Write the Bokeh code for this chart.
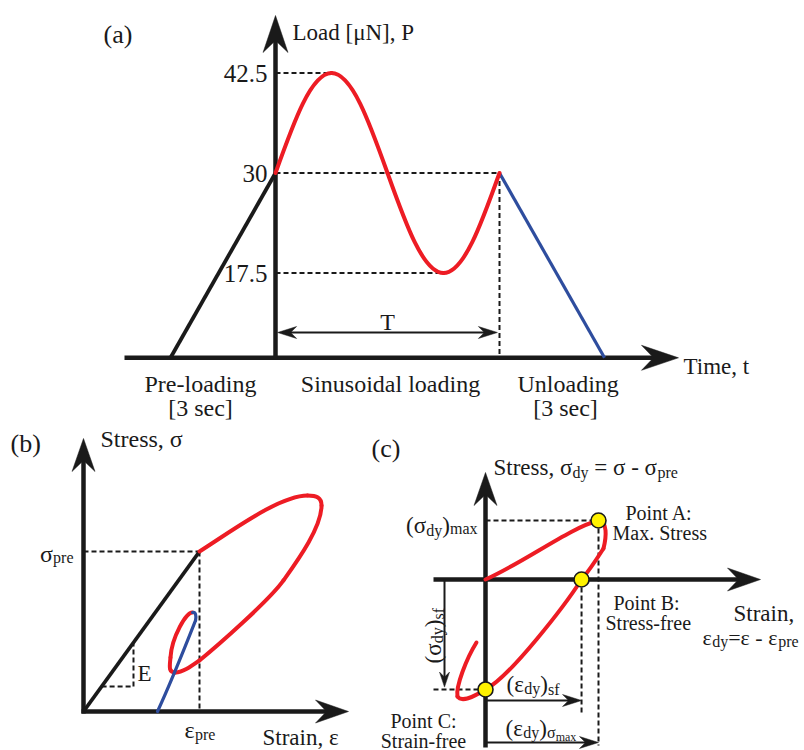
import math
from bokeh.plotting import figure
from bokeh.models import Range1d, ColumnDataSource
from bokeh.core.properties import value
from bokeh.embed import file_html
from bokeh.resources import INLINE

W, H = 804, 750
FONT = "Liberation Serif"
INK = "#1a1a1a"
RED = "#ed1c24"
BLUE = "#2e4d9e"
YELLOW = "#fff200"

# ======================= DATA =======================
# (a) load history  (time in s, load in uN; schematic)
LOAD_TICKS = [42.5, 30.0, 17.5]
LOAD_TICK_LABELS = ["42.5", "30", "17.5"]
LOAD_AT_TIME_AXIS = 6.9            # the (not to scale) load level of the time axis
PERIOD = 6.4                       # sinusoid period T
PRELOAD_T = [-3.0, 0.0]
PRELOAD_P = [LOAD_AT_TIME_AXIS, 30.0]
SINE_T = [0.0, 1.6, 3.2, 4.8, 6.4]          # zero crossings and extremes
SINE_P = [30.0, 42.5, 30.0, 17.5, 30.0]
UNLOAD_T = [6.4, 9.4]
UNLOAD_P = [30.0, LOAD_AT_TIME_AXIS]

# (b) stress-strain, normalised by eps_pre and sigma_pre
EPS_PRE, SIG_PRE = 1.0, 1.0
B_PRELOAD_EPS = [0.0, 1.0]
B_PRELOAD_SIG = [0.0, 1.0]
E_TRI_EPS = [0.156, 0.431, 0.431]
E_TRI_SIG = [0.156, 0.156, 0.431]
# cubic segments: (x0, y0, cx0, cy0, cx1, cy1, x1, y1)
B_RED_SEGMENTS = [
    (1.000, 1.000, 1.310, 1.144, 1.698, 1.350, 1.931, 1.350),
    (1.931, 1.350, 2.009, 1.350, 2.052, 1.338, 2.052, 1.288),
    (2.052, 1.288, 2.052, 1.150, 1.844, 0.942, 1.724, 0.819),
    (1.724, 0.819, 1.604, 0.696, 1.150, 0.407, 1.000, 0.319),
    (1.000, 0.319, 0.914, 0.275, 0.853, 0.244, 0.793, 0.244),
    (0.793, 0.244, 0.733, 0.244, 0.741, 0.275, 0.750, 0.338),
    (0.750, 0.338, 0.759, 0.463, 0.888, 0.625, 0.940, 0.619),
]
B_BLUE_SEGMENTS = [
    (0.940, 0.619, 0.966, 0.625, 0.974, 0.600, 0.966, 0.569),
    (0.966, 0.569, 0.922, 0.488, 0.750, 0.175, 0.638, 0.000),
]

# (c) dynamic stress-strain, normalised by (eps_dy)_smax and (sigma_dy)_max
POINT_NAMES = ["A", "B", "C"]
POINT_EPS = [1.0, 0.85, 0.0]
POINT_SIG = [1.0, 0.0, -1.864]
C_RED_SEGMENTS = [
    (0.000, 0.000, 0.354, 0.305, 0.752, 0.881, 1.000, 1.000),
    (1.000, 1.000, 1.080, 0.983, 1.071, 0.729, 1.044, 0.525),
    (1.044, 0.525, 0.982, 0.339, 0.912, 0.136, 0.850, 0.000),
    (0.850, 0.000, 0.708, -0.424, 0.221, -1.644, 0.000, -1.864),
    (0.000, -1.864, -0.115, -2.000, -0.212, -2.085, -0.248, -1.983),
    (-0.248, -1.983, -0.265, -1.814, -0.168, -1.339, -0.080, -1.068),
]


# ======================= LAYOUT =======================
class Panel:
    def __init__(self, name, ox, oy, kx, ky):
        self.xr, self.yr = name + "_x", name + "_y"
        self.ox, self.oy, self.kx, self.ky = ox, oy, kx, ky

    def x(self, px):
        return (px - self.ox) / self.kx

    def y(self, py):
        return (self.oy - py) / self.ky

    def kw(self):
        return dict(x_range_name=self.xr, y_range_name=self.yr)


PA = Panel("a", 275, 412.5, 35.0, 8.0)
PB = Panel("b", 83, 711, 116.0, 160.0)
PC = Panel("c", 485, 579, 113.0, 59.0)

p = figure(width=W, height=H, x_range=Range1d(0, W), y_range=Range1d(H, 0),
           output_backend="svg", toolbar_location=None,
           x_axis_location=None, y_axis_location=None,
           min_border=0, min_border_left=0, min_border_right=0,
           min_border_top=0, min_border_bottom=0,
           outline_line_color=None, background_fill_color="white",
           border_fill_color="white")
p.grid.visible = False
for P in (PA, PB, PC):
    p.extra_x_ranges[P.xr] = Range1d(P.x(0), P.x(W))
    p.extra_y_ranges[P.yr] = Range1d(P.y(H), P.y(0))

HEAD_XL = (37, 25, 25)
HEAD_L = (33, 23, 22)
HEAD_S = (19, 12, 13)
HEAD_XS = (15, 10, 10)


def arrow(P, x0, y0, x1, y1, lw, head, both=False):
    xs, ys = [], []

    def head_at(xt, yt, xf, yf):
        dxp = (xt - xf) * P.kx
        dyp = (yt - yf) * P.ky
        n = math.hypot(dxp, dyp)
        ux, uy = dxp / n, dyp / n
        L, Wd, N = head
        qx, qy = -uy, ux
        pts = [(0, 0), (-L * ux + Wd / 2 * qx, -L * uy + Wd / 2 * qy),
               (-N * ux, -N * uy), (-L * ux - Wd / 2 * qx, -L * uy - Wd / 2 * qy)]
        xs.append([xt + a / P.kx for a, b in pts])
        ys.append([yt + b / P.ky for a, b in pts])
        return xt - (N - 1) * ux / P.kx, yt - (N - 1) * uy / P.ky

    ex, ey = head_at(x1, y1, x0, y0)
    sx, sy = head_at(x0, y0, x1, y1) if both else (x0, y0)
    p.line([sx, ex], [sy, ey], line_color=INK, line_width=lw, **P.kw())
    p.patches(xs, ys, fill_color=INK, line_color=INK, line_width=0.5, **P.kw())


def beziers(P, segs, color, width):
    c = [list(v) for v in zip(*segs)]
    p.bezier(x0=c[0], y0=c[1], cx0=c[2], cy0=c[3], cx1=c[4], cy1=c[5], x1=c[6], y1=c[7],
             line_color=color, line_width=width, line_cap="round", **P.kw())


def dashed(P, x0, y0, x1, y1, width=2.0, dash="5 3"):
    p.segment(x0=x0, y0=y0, x1=x1, y1=y1, line_color=INK, line_width=width,
              line_dash=dash, **P.kw())


# ---------------- (a) ----------------
K1X, K1Y, K2X = 0.3261, 0.5123, 0.6381   # cubic shape of a quarter sine wave
sine = []
for i in range(4):
    t0, t1, q0, q1 = SINE_T[i], SINE_T[i + 1], SINE_P[i], SINE_P[i + 1]
    dt = t1 - t0
    if q0 == 30.0:
        sine.append((t0, q0, t0 + K1X * dt, q0 + K1Y * (q1 - q0), t0 + K2X * dt, q1, t1, q1))
    else:
        sine.append((t0, q0, t0 + (1 - K2X) * dt, q0, t0 + (1 - K1X) * dt, q1 + K1Y * (q0 - q1), t1, q1))

dashed(PA, [0, 0, 0, PERIOD], [42.5, 30.0, 17.5, 30.0],
       [SINE_T[1], PERIOD, SINE_T[3], PERIOD], [42.5, 30.0, 17.5, LOAD_AT_TIME_AXIS])
arrow(PA, PA.x(124), LOAD_AT_TIME_AXIS, PA.x(678), LOAD_AT_TIME_AXIS, 4.5, HEAD_XL)
arrow(PA, 0, LOAD_AT_TIME_AXIS - 0.25, 0, PA.y(15), 4.5, HEAD_XL)
p.line(PRELOAD_T, PRELOAD_P, line_color=INK, line_width=3.8, **PA.kw())
p.line(UNLOAD_T, UNLOAD_P, line_color=BLUE, line_width=3.2, **PA.kw())
beziers(PA, sine, RED, 4.0)
arrow(PA, 0.06, PA.y(332), PERIOD - 0.06, PA.y(332), 2.0, HEAD_S, both=True)
p.text(x=[267] * 3, y=LOAD_TICKS, text=LOAD_TICK_LABELS, text_font=value(FONT),
       text_font_size="25px", text_align="right", text_baseline="middle",
       text_color=INK, y_range_name=PA.yr)

# ---------------- (b) ----------------
dashed(PB, [0, EPS_PRE], [SIG_PRE, SIG_PRE], [EPS_PRE, EPS_PRE], [SIG_PRE, 0])
dashed(PB, E_TRI_EPS[:2], E_TRI_SIG[:2], E_TRI_EPS[1:], E_TRI_SIG[1:])
arrow(PB, 0, PB.y(713), 0, PB.y(438), 4.5, HEAD_L)
arrow(PB, PB.x(81), 0, PB.x(348), 0, 4.5, HEAD_L)
p.line(B_PRELOAD_EPS, B_PRELOAD_SIG, line_color=INK, line_width=3.8, **PB.kw())
beziers(PB, B_RED_SEGMENTS, RED, 4.0)
beziers(PB, B_BLUE_SEGMENTS, BLUE, 3.2)

# ---------------- (c) ----------------
dashed(PC, [0, POINT_EPS[0], POINT_EPS[1], PC.x(433)],
       [POINT_SIG[0], POINT_SIG[0], POINT_SIG[1], POINT_SIG[2]],
       [POINT_EPS[0], POINT_EPS[0], POINT_EPS[1], 0],
       [POINT_SIG[0], PC.y(745), PC.y(712), POINT_SIG[2]])
arrow(PC, 0, PC.y(747), 0, PC.y(472), 4.5, HEAD_L)
arrow(PC, PC.x(433), 0, PC.x(760), 0, 4.5, HEAD_L)
arrow(PC, PC.x(444), 0, PC.x(444), POINT_SIG[2] + 0.04, 2.0, HEAD_XS)
arrow(PC, 0, PC.y(700), POINT_EPS[1], PC.y(700), 2.0, HEAD_S)
arrow(PC, 0, PC.y(742), POINT_EPS[0], PC.y(742), 2.0, HEAD_S)
beziers(PC, C_RED_SEGMENTS, RED, 4.0)
p.scatter(POINT_EPS, POINT_SIG, size=15, fill_color=YELLOW, line_color=INK,
          line_width=1.6, **PC.kw())

# ---------------- texts ----------------
CW = {' ': .25, '(': .333, ')': .333, '[': .333, ']': .333, ',': .25, '.': .25, ':': .278,
      '-': .333, '=': .564, 'A': .722, 'B': .667, 'C': .667, 'E': .611, 'L': .611, 'M': .889,
      'N': .722, 'P': .556, 'S': .556, 'T': .611, 'a': .444, 'c': .444, 'd': .5, 'e': .444,
      'f': .333, 'g': .5, 'i': .278, 'l': .278, 'm': .778, 'n': .5, 'o': .5, 'p': .5, 'r': .333,
      's': .389, 't': .278, 'u': .5, 'x': .5, 'y': .5, 'σ': .549, 'ε': .439, 'μ': .576}


def tw(s, size):
    return sum(CW.get(ch, .5) for ch in s) * size


TX = dict(x=[], y=[], text=[], size=[], angle=[])


def rich(x, y, runs, align="left", angle=0.0):
    total = sum(tw(t, s) for t, s, _ in runs)
    pos = {"left": 0.0, "center": -total / 2, "right": -total}[align]
    for t, s, dy in runs:
        core = t.strip(" ")
        lead = len(t) - len(t.lstrip(" "))
        pos += lead * CW[" "] * s          # SVG drops leading blanks: advance instead
        if angle == 0.0:
            TX["x"].append(x + pos); TX["y"].append(y + dy)
        else:
            TX["x"].append(x + dy); TX["y"].append(y - pos)
        TX["text"].append(core); TX["size"].append(f"{s}px"); TX["angle"].append(angle)
        pos += tw(t, s) - lead * CW[" "] * s


# (a)
rich(103, 34, [("(a)", 26, 0)])
rich(292, 32, [("Load [μN], P", 23, 0)])
rich(683, 366, [("Time, t", 23, 0)])
rich(387, 321, [("T", 24, 0)], "center")
rich(200, 383, [("Pre-loading", 24, 0)], "center")
rich(200, 407, [("[3 sec]", 24, 0)], "center")
rich(390, 383, [("Sinusoidal loading", 24, 0)], "center")
rich(565, 383, [("Unloading", 24, 0)], "center")
rich(565, 407, [("[3 sec]", 24, 0)], "center")
# (b)
rich(10, 443, [("(b)", 26, 0)])
rich(100, 438, [("Stress, σ", 24, 0)])
rich(73, 553, [("σ", 24, 0), ("pre", 16, 4)], "right")
rich(184, 729, [("ε", 24, 0), ("pre", 16, 5)])
rich(262, 737, [("Strain, ε", 23, 0)])
rich(137, 673, [("E", 23, 0)])
# (c)
rich(371, 448, [("(c)", 26, 0)])
rich(493, 467, [("Stress, σ", 23, 0), ("dy", 16, 5), (" = σ - σ", 23, 0), ("pre", 16, 5)])
rich(477, 525, [("(σ", 23, 0), ("dy", 16, 5), (")", 23, 0), ("max", 16, 3)], "right")
rich(625, 512, [("Point A:", 20, 0)])
rich(612, 532, [("Max. Stress", 20, 0)])
rich(613, 602, [("Point B:", 20, 0)])
rich(605, 622, [("Stress-free", 20, 0)])
rich(733, 613, [("Strain,", 23, 0)])
rich(702, 637, [("ε", 22, 0), ("dy", 16, 4), ("=ε - ε", 22, 0), ("pre", 16, 4)])
rich(423, 720, [("Point C:", 20, 0)], "center")
rich(423, 740, [("Strain-free", 20, 0)], "center")
rich(506, 684, [("(ε", 23, 0), ("dy", 16, 4), (")", 23, 0), ("sf", 16, 5)])
rich(505, 728, [("(ε", 23, 0), ("dy", 16, 4), (")", 23, 0), ("σ", 16, 4), ("max", 12, 8)])
rich(433, 663, [("(σ", 23, 0), ("dy", 16, 4), (")", 23, 0), ("sf", 16, 5)], angle=math.pi / 2)

p.text(x="x", y="y", text="text", angle="angle", text_font_size="size",
       source=ColumnDataSource(TX), text_font=value(FONT), text_color=INK,
       text_align="left", text_baseline="alphabetic")

open("out.html", "w").write(file_html(p, INLINE))
